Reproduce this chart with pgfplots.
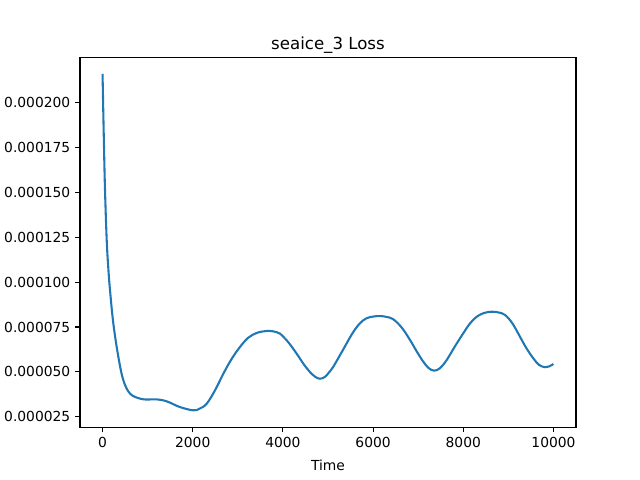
\documentclass[border=0pt]{standalone}
\usepackage{pgfplots}
\pgfplotsset{compat=1.18}
\usepackage{fontspec}
\setmainfont{DejaVu Sans}
\definecolor{mplblue}{HTML}{1F77B4}
\begin{document}
\begin{tikzpicture}
\path[use as bounding box] (0,0) rectangle (6.4in,4.8in);
\begin{axis}[
  at={(0.8in,0.528in)}, anchor=south west,
  scale only axis, width=4.96in, height=3.696in,
  xmin=-500, xmax=10500, ymin=0.0000192, ymax=0.000225,
  xtick={0,2000,4000,6000,8000,10000},
  ytick={0.000025,0.00005,0.000075,0.0001,0.000125,0.00015,0.000175,0.0002},
  scaled ticks=false,
  /pgf/number format/assume math mode=true,
  xticklabel style={/pgf/number format/.cd, fixed, set thousands separator={}},
  yticklabel style={/pgf/number format/.cd, fixed, fixed zerofill, precision=6},
  tick align=outside, tick pos=left,
  major tick length=3.5pt,
  every tick/.style={black, line width=0.8pt},
  axis line style={line width=0.8pt},
  tick label style={font=\fontsize{10}{12}\selectfont},
  xlabel={Time},
  xlabel style={font=\fontsize{10}{12}\selectfont, yshift=-2pt},
  title={seaice\_3 Loss},
  title style={font=\fontsize{12}{14}\selectfont, yshift=-6.5pt},
]
\addplot[mplblue, line width=1.5pt, smooth, tension=0.6] coordinates {
(0,0.000216) (30,0.000178) (55,0.000151) (93,0.000123) (130,0.000107) (166,0.0000954) (240,0.0000768)
(351,0.0000583) (462,0.0000453) (610,0.0000379) (831,0.0000351) (1000,0.0000346)
(1201,0.0000347) (1423,0.0000336) (1718,0.0000304) (2013,0.0000286) (2150,0.0000295) (2310,0.0000323)
(2500,0.0000400) (2679,0.000049) (2870,0.0000575) (3049,0.0000639) (3230,0.0000690) (3419,0.0000717) (3580,0.0000726) (3714,0.0000728) (3850,0.0000722) (3936,0.0000713)
(4120,0.0000665) (4306,0.0000601) (4470,0.0000540) (4601,0.0000499) (4720,0.0000472) (4823,0.0000462) (4930,0.0000472) (5029,0.0000499) (5118,0.0000529)
(5270,0.0000595) (5414,0.0000659) (5560,0.0000722) (5710,0.0000771) (5850,0.0000798) (6000,0.0000808) (6153,0.0000811) (6300,0.0000806) (6448,0.0000793) (6640,0.0000745) (6818,0.0000678)
(6970,0.0000613) (7113,0.0000557) (7230,0.0000522) (7350,0.0000507) (7480,0.0000520) (7632,0.0000566) (7810,0.0000640) (8000,0.0000715) (8150,0.0000770) (8297,0.0000807)
(8460,0.0000828) (8630,0.0000835) (8780,0.0000831) (8925,0.0000817) (9090,0.0000770) (9257,0.0000696) (9400,0.0000632) (9552,0.0000576) (9680,0.0000539) (9811,0.0000526) (9900,0.0000530)
(10000,0.0000544)
};
\end{axis}
\end{tikzpicture}
\end{document}
